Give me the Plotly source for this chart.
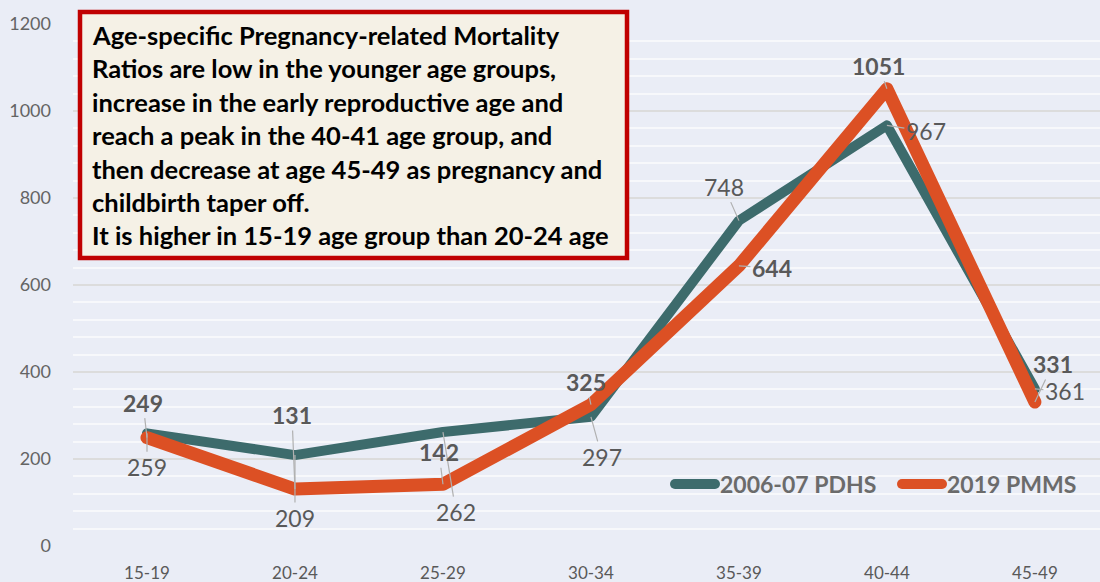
import plotly.graph_objects as go

categories = ["15-19", "20-24", "25-29", "30-34", "35-39", "40-44", "45-49"]
pdhs_name = "2006-07 PDHS"
pmms_name = "2019 PMMS"
pdhs_values = [259, 209, 262, 297, 748, 967, 361]
pmms_values = [249, 131, 142, 325, 644, 1051, 331]
y_ticks = [0, 200, 400, 600, 800, 1000, 1200]

note_lines = [
    "Age-specific Pregnancy-related Mortality",
    "Ratios are low in the younger age groups,",
    "increase in the early reproductive age and",
    "reach a peak in the 40-41 age group, and",
    "then decrease at age 45-49 as pregnancy and",
    "childbirth taper off.",
    "It is higher in 15-19 age group than 20-24 age",
]

# label offsets (pixels) – style only
pmms_offsets = [(-4, -35), (-3, -74), (-4, -32), (-5, -23), (33, 2), (-8, -23), (18, -38)]
pdhs_offsets = [(0, 34), (0, 63), (13, 80), (11, 40), (-15, -34), (39, 6), (30, 2)]

TEAL = "#3d6b6c"
ORANGE = "#dc5024"
FONT = "Lato"

L, T, B = 73, 24, 36
W, H = 1100, 582
PW, PH = W - L, H - T - B


def px_x(p):
    return (p - L) / PW


def px_y(p):
    return (H - B - p) / PH


fig = go.Figure()
fig.add_trace(go.Scatter(x=categories, y=pdhs_values, mode="lines", name=pdhs_name,
                         line=dict(color=TEAL, width=10)))
fig.add_trace(go.Scatter(x=categories, y=pmms_values, mode="lines", name=pmms_name,
                         line=dict(color=ORANGE, width=13)))

annotations = []
for c, v, (ax, ay) in zip(categories, pdhs_values, pdhs_offsets):
    annotations.append(dict(x=c, y=v, xref="x", yref="y", text=str(v), showarrow=True,
                            arrowhead=0, arrowwidth=1.2, arrowcolor="#b0b0b0", ax=ax, ay=ay,
                            standoff=0, font=dict(family=FONT, size=23, color="#595959")))
for c, v, (ax, ay) in zip(categories, pmms_values, pmms_offsets):
    annotations.append(dict(x=c, y=v, xref="x", yref="y", text="<b>%d</b>" % v, showarrow=True,
                            arrowhead=0, arrowwidth=1.2, arrowcolor="#b0b0b0", ax=ax, ay=ay,
                            standoff=0, font=dict(family=FONT, size=23, color="#595959")))

# note box text, one annotation per line
first_center = 35
line_h = 33.4
for i, line in enumerate(note_lines):
    ypx = first_center + i * line_h
    annotations.append(dict(x=px_x(90), y=px_y(ypx), xref="paper", yref="paper",
                            text="<b>%s</b>" % line, showarrow=False, xanchor="left",
                            yanchor="middle", align="left",
                            font=dict(family=FONT, size=25.5, color="#000000")))

fig.update_layout(
    width=W, height=H,
    margin=dict(l=L, r=0, t=T, b=B, autoexpand=False),
    paper_bgcolor="#eaedf6", plot_bgcolor="#eaedf6",
    font=dict(family=FONT, color="#595959"),
    showlegend=True,
    legend=dict(orientation="h", x=px_x(670), y=px_y(484), xanchor="left", yanchor="middle",
                bgcolor="rgba(0,0,0,0)", font=dict(family=FONT, size=23, color="#6b6b6b",
                weight="bold"), itemwidth=40, tracegroupgap=0, entrywidth=172,
                entrywidthmode="pixels"),
    annotations=annotations,
    shapes=[dict(type="rect", xref="paper", yref="paper",
                 x0=px_x(80), x1=px_x(627), y0=px_y(258), y1=px_y(12),
                 line=dict(color="#c00000", width=4.5), fillcolor="#f5f1e6", layer="above")],
)
fig.update_xaxes(range=[-0.5, 6.44], showgrid=False, zeroline=False, showline=False,
                 automargin=False,
                 tickfont=dict(family=FONT, size=17, color="#595959"), ticks="",
                 ticklabelstandoff=15)
fig.update_yaxes(range=[0, 1200], tickvals=y_ticks, showgrid=True, gridcolor="#dcdcdc",
                 gridwidth=1.5, zeroline=False, showline=False, automargin=False,
                 minor=dict(dtick=40, showgrid=True, gridcolor="#f7f8fb", gridwidth=1.5),
                 tickfont=dict(family=FONT, size=18, color="#646464"), ticks="",
                 ticklabelstandoff=21)

post = (
    "document.body.style.margin='0';"
    "document.querySelectorAll('.scatterlayer .js-line, .legendlines path').forEach(function(p){"
    "p.style.strokeLinejoin='round';p.style.strokeLinecap='round';});"
)
fig.write_html("out.html", post_script=post, config={"displayModeBar": False})
